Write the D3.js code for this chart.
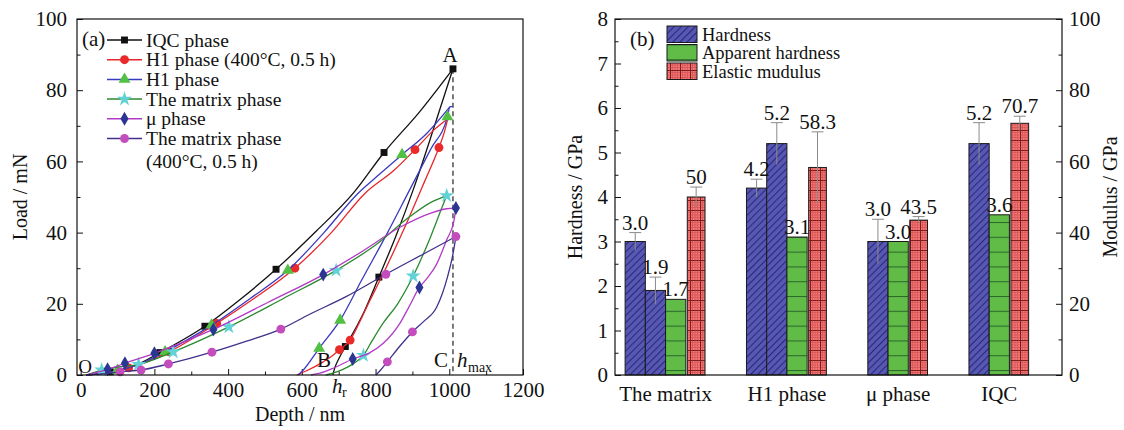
<!DOCTYPE html>
<html>
<head>
<meta charset="utf-8">
<title>Nanoindentation load-depth curves and hardness</title>
<style>
  body { margin: 0; padding: 0; background: #fff; }
  svg { display: block; }
</style>
<script src="https://cdn.jsdelivr.net/npm/d3@7/dist/d3.min.js"></script>
</head>
<body>
<svg width="1124" height="430"></svg>
<script>
// ---------- (a) load / depth curves: [depth nm, load mN] ----------
const iqcLoad   = [[15,0],[80,0.9],[150,2.8],[215,6.3],[337,13.7],[430,21],[530,29.7],[640,40.5],[739,51],[823,62.5],[920,74],[1010,86]];
const iqcUnload = [[1010,86],[960,70],[902,52],[855,39],[809,27.5],[770,18],[740,12],[718,8],[700,4.5],[690,2.2],[684,0]];
const iqcMarks  = [[80,0.9],[215,6.3],[337,13.7],[530,29.7],[823,62.5],[1010,86],[809,27.5],[718,8]];

const h1hLoad   = [[15,0],[85,0.9],[150,2.6],[240,6.5],[369,14.5],[470,21.5],[581,30],[680,40],[771,51],[850,57.5],[907,63.3],[960,69],[996,72]];
const h1hUnload = [[996,72],[986,68],[972,63.9],[934,54.6],[875,40.5],[812,26.6],[785,21],[755,14.5],[731,9.8],[702,7.1],[680,5.2],[658,3.7],[613,1.2],[586,0]];
const h1hMarks  = [[130,2],[240,6.5],[369,14.5],[581,30],[907,63.3],[972,63.9],[731,9.8],[702,7.1]];

const h1Load    = [[15,0],[80,0.8],[150,2.7],[229,6.5],[355,14],[460,21.5],[562,29.4],[660,40],[752,51],[812,56.5],[872,61.9],[940,68],[1002,75.4]];
const h1Unload  = [[1002,75.4],[1009,75.4],[995,72.5],[950,63.5],[890,51.5],[830,39.5],[762,26.6],[704,15.4],[647,7.5],[604,1.4],[590,0]];
const h1Marks   = [[100,1.3],[229,6.5],[355,14],[562,29.4],[872,61.9],[995,72.5],[704,15.4],[647,7.5]];

const mxLoad    = [[15,0],[57,1.4],[100,2.2],[157,3],[251,6.5],[402,13.5],[550,21.5],[693,29.4],[800,36.5],[893,44.5],[950,48.5],[993,50.4]];
const mxUnload  = [[993,50.4],[978,46.5],[950,39],[902,27.8],[860,20],[820,14.5],[790,9.5],[767,5.5],[740,3.2],[710,1.5],[680,0.4],[665,0]];
const mxMarks   = [[57,1.4],[157,3],[251,6.5],[402,13.5],[693,29.4],[993,50.4],[902,27.8],[767,5.5]];

const muLoad    = [[15,0],[73,1.6],[120,3.3],[200,6.1],[360,12.8],[510,20.5],[658,28.2],[760,34.5],[866,41.5],[950,45.5],[993,46.7],[1018,46.9]];
const muUnload  = [[1018,46.9],[1012,43],[993,38],[965,31],[940,27.2],[919,24.6],[890,19],[866,14.5],[821,8.9],[780,6],[738,4.5],[685,1.9],[649,0.5],[625,0]];
const muMarks   = [[73,1.6],[120,3.3],[200,6.1],[360,12.8],[658,28.2],[1018,46.9],[919,24.6],[738,4.5]];

const mx4Load   = [[15,0],[60,0.3],[107,0.9],[164,1.4],[238,3.1],[356,6.4],[450,9.5],[543,12.9],[620,17],[720,22],[828,28.3],[930,34],[1018,38.9]];
const mx4Unload = [[1018,38.9],[1010,34],[995,27.5],[966,19.1],[930,15],[900,12.1],[865,8],[832,3.7],[812,1.2],[801,0]];
const mx4Marks  = [[107,0.9],[164,1.4],[238,3.1],[356,6.4],[543,12.9],[828,28.3],[1018,38.9],[900,12.1],[832,3.7]];

const hMaxDepth = 1010, hMaxLoad = 86;

// ---------- (b) hardness / modulus bars ----------
const groups       = ['The matrix', 'H1 phase', 'μ phase', 'IQC'];
const hardness1    = [3.0, 4.2, 3.0, 5.2];
const hardness1Err = [0.2, 0.2, 0.5, 0.47];
const hardness2    = [1.9, 5.2, null, null];
const hardness2Err = [0.3, 0.47, null, null];
const apparent     = [1.7, 3.1, 3.0, 3.6];
const modulus      = [50, 58.3, 43.5, 70.7];
const modulusErr   = [2.8, 10, 1, 2];

const FONT = "'Liberation Serif','Times New Roman',serif";
const svg = d3.select('svg');
const ink = '#111';
const intFmt = d3.format('d');

function styleAxis(g, size) {
  g.select('.domain').remove();
  g.selectAll('line').attr('stroke', ink).attr('stroke-width', 1);
  g.selectAll('text').attr('font-family', FONT).attr('font-size', size || 21).attr('fill', ink);
  return g;
}
function label(x, y, txt, opt = {}) {
  return svg.append('text').attr('x', x).attr('y', y)
    .attr('font-family', FONT).attr('font-size', opt.size || 21)
    .attr('text-anchor', opt.anchor || 'start')
    .attr('font-style', opt.italic ? 'italic' : 'normal')
    .attr('fill', ink).text(txt);
}

// ====================== panel (a) ======================
const xA = d3.scaleLinear().domain([-10, 1200]).range([77, 523]);
const yA = d3.scaleLinear().domain([0, 100]).range([375, 19]);

styleAxis(svg.append('g').attr('transform', 'translate(0,375)')
  .call(d3.axisBottom(xA).tickValues(d3.range(0, 1201, 200)).tickFormat(intFmt)
    .tickSizeInner(-6).tickSizeOuter(0).tickPadding(7)));
styleAxis(svg.append('g').attr('transform', 'translate(0,375)')
  .call(d3.axisBottom(xA).tickValues(d3.range(100, 1200, 200)).tickSize(-3.5).tickFormat('')));
styleAxis(svg.append('g').attr('transform', 'translate(77,0)')
  .call(d3.axisLeft(yA).tickValues(d3.range(0, 101, 20)).tickFormat(intFmt)
    .tickSizeInner(-6).tickSizeOuter(0).tickPadding(10)));
styleAxis(svg.append('g').attr('transform', 'translate(77,0)')
  .call(d3.axisLeft(yA).tickValues(d3.range(10, 100, 20)).tickSize(-3.5).tickFormat('')));

// dashed h_max line
svg.append('line')
  .attr('x1', xA(hMaxDepth)).attr('x2', xA(hMaxDepth))
  .attr('y1', yA(hMaxLoad)).attr('y2', yA(0))
  .attr('stroke', '#333').attr('stroke-width', 1.3).attr('stroke-dasharray', '5,3.5');

const curves = [
  { name: ['IQC phase'], load: iqcLoad, unload: iqcUnload, marks: iqcMarks, line: '#111', fill: '#111', sym: d3.symbolSquare, size: 48 },
  { name: ['H1 phase (400°C, 0.5 h)'], load: h1hLoad, unload: h1hUnload, marks: h1hMarks, line: '#e8262a', fill: '#ea2a2a', sym: d3.symbolCircle, size: 62 },
  { name: ['H1 phase'], load: h1Load, unload: h1Unload, marks: h1Marks, line: '#3a3ac0', fill: '#52c043', sym: d3.symbolTriangle, size: 62 },
  { name: ['The matrix phase'], load: mxLoad, unload: mxUnload, marks: mxMarks, line: '#2a8a2e', fill: '#62d2d6', sym: d3.symbolStar, size: 70 },
  { name: ['μ phase'], load: muLoad, unload: muUnload, marks: muMarks, line: '#b23ac6', fill: '#2b3592', sym: d3.symbolDiamond, size: 56 },
  { name: ['The matrix phase', '(400°C, 0.5 h)'], load: mx4Load, unload: mx4Unload, marks: mx4Marks, line: '#40308c', fill: '#c44dbd', sym: d3.symbolCircle, size: 62 }
];

const lineA = d3.line().x(d => xA(d[0])).y(d => yA(d[1])).curve(d3.curveMonotoneX);
const byDepth = arr => arr.slice().sort((a, b) => a[0] - b[0]);

curves.forEach(c => {
  [c.load, c.unload].forEach(seg => {
    svg.append('path').attr('d', lineA(byDepth(seg)))
      .attr('fill', 'none').attr('stroke', c.line).attr('stroke-width', 1.3);
  });
  svg.append('g').selectAll('path').data(c.marks).join('path')
    .attr('transform', d => `translate(${xA(d[0])},${yA(d[1])})`)
    .attr('d', d3.symbol(c.sym, c.size))
    .attr('fill', c.fill);
});

// legend (a)
label(82, 46, '(a)');
let ly = 40;
curves.forEach(c => {
  svg.append('line').attr('x1', 107).attr('x2', 142).attr('y1', ly).attr('y2', ly)
    .attr('stroke', c.line).attr('stroke-width', 1.5);
  svg.append('path').attr('transform', `translate(124.5,${ly})`)
    .attr('d', d3.symbol(c.sym, c.size)).attr('fill', c.fill);
  c.name.forEach((t, k) => label(146, ly + 6.5 + k * 23, t, { size: 19.5 }));
  ly += 19.7;
});

// annotations
label(450, 62, 'A', { anchor: 'middle' });
label(85, 373, 'O', { anchor: 'middle', size: 19 });
label(324, 367, 'B', { anchor: 'middle' });
label(441, 367, 'C', { anchor: 'middle' });
label(457, 367, 'h', { italic: true });
label(468, 372, 'max', { size: 14 });
label(332, 393, 'h', { italic: true });
label(342, 397, 'r', { size: 14 });

// frame + titles
svg.append('rect').attr('x', 77).attr('y', 19).attr('width', 446).attr('height', 356)
  .attr('fill', 'none').attr('stroke', ink).attr('stroke-width', 1.2);
label(300, 421, 'Depth / nm', { anchor: 'middle', size: 20 });
svg.append('text').attr('transform', 'translate(27,197) rotate(-90)')
  .attr('text-anchor', 'middle').attr('font-family', FONT).attr('font-size', 20).attr('fill', ink)
  .text('Load / mN');

// ====================== panel (b) ======================
const defs = svg.append('defs');
const pH = defs.append('pattern').attr('id', 'patH').attr('patternUnits', 'userSpaceOnUse')
  .attr('width', 5).attr('height', 5).attr('patternTransform', 'rotate(45)');
pH.append('rect').attr('width', 5).attr('height', 5).attr('fill', '#5757b4');
pH.append('line').attr('x1', 0.5).attr('x2', 0.5).attr('y1', 0).attr('y2', 5).attr('stroke', '#2a2a78').attr('stroke-width', 1.1);

const pA = defs.append('pattern').attr('id', 'patA').attr('patternUnits', 'userSpaceOnUse')
  .attr('width', 10).attr('height', 14.8);
pA.append('rect').attr('width', 10).attr('height', 14.8).attr('fill', '#60bb47');
pA.append('line').attr('x1', 0).attr('x2', 10).attr('y1', 0.5).attr('y2', 0.5).attr('stroke', '#2c6a2c').attr('stroke-width', 1.1);

const pM = defs.append('pattern').attr('id', 'patM').attr('patternUnits', 'userSpaceOnUse')
  .attr('width', 10).attr('height', 10);
pM.append('rect').attr('width', 10).attr('height', 10).attr('fill', '#f27676');
[2.5, 5, 7.5].forEach(v => {
  pM.append('line').attr('x1', v).attr('x2', v).attr('y1', 0).attr('y2', 10).attr('stroke', '#d04c4c').attr('stroke-width', 0.6);
  pM.append('line').attr('y1', v).attr('y2', v).attr('x1', 0).attr('x2', 10).attr('stroke', '#d04c4c').attr('stroke-width', 0.6);
});
pM.append('line').attr('x1', 0.5).attr('x2', 0.5).attr('y1', 0).attr('y2', 10).attr('stroke', '#7c1e1e').attr('stroke-width', 1);
pM.append('line').attr('y1', 0.5).attr('y2', 0.5).attr('x1', 0).attr('x2', 10).attr('stroke', '#7c1e1e').attr('stroke-width', 1);

const fills = { h: 'url(#patH)', a: 'url(#patA)', m: 'url(#patM)' };

// lay bars out slot by slot, with a two-slot gap between groups
const bars = [];
const groupMid = [];
let slot = 0;
const f1 = d3.format('.1f');
groups.forEach((g, i) => {
  const start = slot;
  bars.push({ kind: 'h', slot: slot++, v: hardness1[i], e: hardness1Err[i], txt: f1(hardness1[i]) });
  if (hardness2[i] != null) bars.push({ kind: 'h', slot: slot++, v: hardness2[i], e: hardness2Err[i], txt: f1(hardness2[i]) });
  bars.push({ kind: 'a', slot: slot++, v: apparent[i], e: 0, txt: f1(apparent[i]) });
  bars.push({ kind: 'm', slot: slot++, v: modulus[i], e: modulusErr[i], txt: String(modulus[i]) });
  groupMid.push({ name: g, mid: (start + slot) / 2 });
  slot += 2;
});

const xB = d3.scaleLinear().domain([-0.5, 21.6]).range([615, 1062]);
const yB = d3.scaleLinear().domain([0, 8]).range([375, 19]);
const yM = d3.scaleLinear().domain([0, 100]).range([375, 19]);
const yOf = b => (b.kind === 'm' ? yM : yB);
const bx0 = b => xB(b.slot) + (b.kind === 'm' ? 1.5 : 0);
const bw  = b => xB(b.slot + 1) - xB(b.slot) - (b.kind === 'm' ? 2.5 : 0);
const bcx = b => bx0(b) + bw(b) / 2;

svg.append('g').selectAll('rect').data(bars).join('rect')
  .attr('x', bx0).attr('width', bw)
  .attr('y', b => yOf(b)(b.v)).attr('height', b => yOf(b)(0) - yOf(b)(b.v))
  .attr('fill', b => fills[b.kind]).attr('stroke', '#1a1a1a').attr('stroke-width', 1);

// error bars
const errBars = bars.filter(b => b.e > 0);
const eg = svg.append('g').attr('stroke', '#8a8a8a').attr('stroke-width', 1);
eg.selectAll('line.v').data(errBars).join('line').attr('class', 'v')
  .attr('x1', bcx).attr('x2', bcx)
  .attr('y1', b => yOf(b)(b.v + b.e)).attr('y2', b => yOf(b)(b.v - b.e));
eg.selectAll('line.c').data(errBars).join('line').attr('class', 'c')
  .attr('x1', b => bcx(b) - 6).attr('x2', b => bcx(b) + 6)
  .attr('y1', b => yOf(b)(b.v + b.e)).attr('y2', b => yOf(b)(b.v + b.e));

// value labels
svg.append('g').selectAll('text').data(bars).join('text')
  .attr('x', bcx).attr('y', b => yOf(b)(b.v + b.e) - 3)
  .attr('text-anchor', 'middle').attr('font-family', FONT).attr('font-size', 21).attr('fill', ink)
  .text(b => b.txt);

// axes
styleAxis(svg.append('g').attr('transform', 'translate(615,0)')
  .call(d3.axisLeft(yB).tickValues(d3.range(0, 9, 1)).tickFormat(intFmt)
    .tickSizeInner(-6).tickSizeOuter(0).tickPadding(7)));
styleAxis(svg.append('g').attr('transform', 'translate(615,0)')
  .call(d3.axisLeft(yB).tickValues(d3.range(0.5, 8, 1)).tickSize(-3.5).tickFormat('')));
styleAxis(svg.append('g').attr('transform', 'translate(1062,0)')
  .call(d3.axisRight(yM).tickValues(d3.range(0, 101, 20)).tickFormat(intFmt)
    .tickSizeInner(-6).tickSizeOuter(0).tickPadding(7)));
styleAxis(svg.append('g').attr('transform', 'translate(1062,0)')
  .call(d3.axisRight(yM).tickValues(d3.range(10, 100, 20)).tickSize(-3.5).tickFormat('')));

svg.append('g').selectAll('text').data(groupMid).join('text')
  .attr('x', d => xB(d.mid)).attr('y', 401)
  .attr('text-anchor', 'middle').attr('font-family', FONT).attr('font-size', 21).attr('fill', ink)
  .text(d => d.name);

svg.append('rect').attr('x', 615).attr('y', 19).attr('width', 447).attr('height', 356)
  .attr('fill', 'none').attr('stroke', ink).attr('stroke-width', 1.2);

// legend (b)
label(630, 46, '(b)');
const legB = [['h', 'Hardness'], ['a', 'Apparent hardness'], ['m', 'Elastic mudulus']];
legB.forEach((d, i) => {
  const y0 = 26 + i * 18.5;
  svg.append('rect').attr('x', 667).attr('y', y0).attr('width', 30).attr('height', 16.5)
    .attr('fill', fills[d[0]]).attr('stroke', '#1a1a1a').attr('stroke-width', 1);
  label(702, y0 + 14.5, d[1], { size: 18.5 });
});

svg.append('text').attr('transform', 'translate(582,197) rotate(-90)')
  .attr('text-anchor', 'middle').attr('font-family', FONT).attr('font-size', 20).attr('fill', ink)
  .text('Hardness / GPa');
svg.append('text').attr('transform', 'translate(1117,197) rotate(-90)')
  .attr('text-anchor', 'middle').attr('font-family', FONT).attr('font-size', 20).attr('fill', ink)
  .text('Modulus / GPa');
</script>
</body>
</html>
